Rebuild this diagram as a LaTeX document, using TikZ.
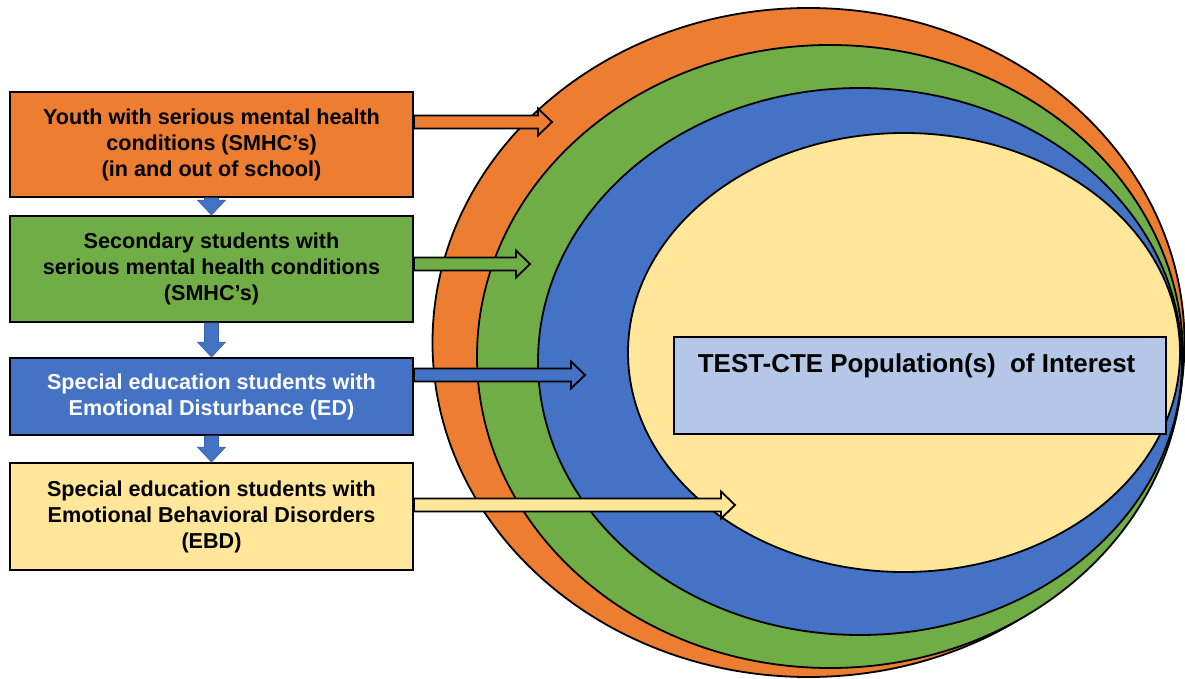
\documentclass[tikz,border=0pt]{standalone}
\usepackage{fontspec}
\setmainfont{Liberation Sans}
\usetikzlibrary{calc}
\definecolor{corange}{HTML}{ED7D31}
\definecolor{cgreen}{HTML}{70AD47}
\definecolor{cblue}{HTML}{4472C4}
\definecolor{cbluedark}{HTML}{3A62AA}
\definecolor{cyellow}{HTML}{FFE699}
\definecolor{clight}{HTML}{B4C7E7}

% horizontal block arrow: start point, tip point, fill colour
\newcommand\rightblock[3]{%
  \draw[fill=#3, line join=miter] let \p1=(#1), \p2=(#2) in
    (\x1,\y1+6.5pt) -- (\x2-14pt,\y1+6.5pt) -- (\x2-14pt,\y1+13.5pt) -- (\x2,\y1)
    -- (\x2-14pt,\y1-13.5pt) -- (\x2-14pt,\y1-6.5pt) -- (\x1,\y1-6.5pt) -- cycle;}
% vertical block arrow between two stacked boxes
\newcommand\downblock[2]{%
  \draw[fill=cblue, draw=cbluedark, line width=0.6pt] let \p1=(#1), \p2=(#2) in
    (\x1-7pt,\y1) -- (\x1-7pt,\y2+15pt) -- (\x1-14pt,\y2+15pt) -- (\x1,\y2)
    -- (\x1+14pt,\y2+15pt) -- (\x1+7pt,\y2+15pt) -- (\x1+7pt,\y1) -- cycle;}

\begin{document}
\begin{tikzpicture}[x=1pt,y=-1pt,line width=1.8pt,
  box/.style={draw=black, minimum width=403pt, align=center, inner sep=0pt,
    font=\fontsize{21.6}{26}\selectfont\bfseries},
  ring/.style={draw=black, line width=1.8pt}]
\useasboundingbox (0,0) rectangle (1185,679);
\fill[white] (0,0) rectangle (1185,679);

% nested populations
\draw[ring, fill=corange] (808.5,342.5) ellipse [x radius=376pt, y radius=334.5pt];
\draw[ring, fill=cgreen]  (830,356.5)  ellipse [x radius=353pt, y radius=311.5pt];
\draw[ring, fill=cblue]   (860,361.5)  ellipse [x radius=322pt, y radius=273.5pt];
\draw[ring, fill=cyellow] (904,352.5)  ellipse [x radius=276pt, y radius=219.5pt];

% population of interest
\node[draw=black, fill=clight, minimum width=492pt, minimum height=97pt,
  anchor=north west, inner sep=0pt] (test) at (673,336) {};
\node[anchor=base west, inner sep=0pt, font=\fontsize{25.9}{30}\selectfont\bfseries]
  (testlabel) at (697,372) {TEST-CTE Population(s)\ \ of Interest};

% arrow tips inside the rings
\coordinate (tipA) at (552,122);
\coordinate (tipB) at (530,264);
\coordinate (tipC) at (585,375);
\coordinate (tipD) at (735,505);

% category boxes
\node[box, fill=corange, minimum height=105pt] (youth) at (211.5,144.5)
  {\raisebox{2pt}{Youth with serious mental health}\\\raisebox{2pt}{conditions (SMHC’s)}\\\raisebox{2pt}{(in and out of school)}};
\node[box, fill=cgreen, minimum height=106pt] (secondary) at (211.5,269)
  {Secondary students with\\serious mental health conditions\\(SMHC’s)};
\node[box, fill=cblue, text=white, minimum height=77pt] (ed) at (211.5,396.5)
  {Special education students with\\Emotional Disturbance (ED)};
\node[box, fill=cyellow, minimum height=107pt] (ebd) at (211.5,516.5)
  {Special education students with\\Emotional Behavioral Disorders\\(EBD)};

% arrows into the rings
\rightblock{youth.east |- tipA}{tipA}{corange}
\rightblock{secondary.east |- tipB}{tipB}{cgreen}
\rightblock{ed.east |- tipC}{tipC}{cblue}
\rightblock{ebd.east |- tipD}{tipD}{cyellow}

% arrows between boxes
\downblock{youth.south}{secondary.north}
\downblock{secondary.south}{ed.north}
\downblock{ed.south}{ebd.north}
\end{tikzpicture}
\end{document}
